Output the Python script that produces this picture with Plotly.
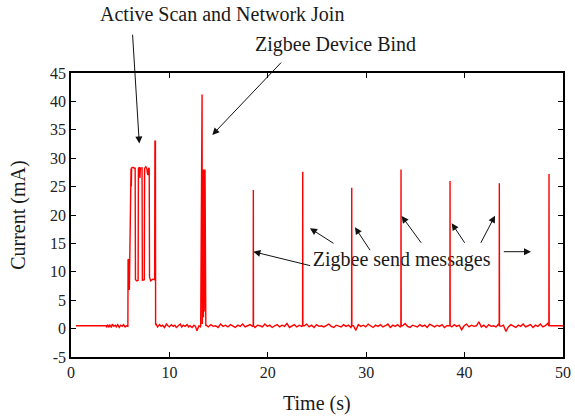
import plotly.graph_objects as go

# --- data ---
pre_t = [0.5, 3.6, 3.62, 3.7, 3.85, 3.95, 4.1, 4.2, 4.35, 4.5, 4.6, 4.75, 4.9, 5.05, 5.2, 5.35, 5.5, 5.65, 5.76]
pre_i = [0.5, 0.5, 0.2, 0.7, 0.3, 0.6, 0.2, 0.8, 0.4, 0.6, 0.3, 0.7, 0.2, 0.6, 0.4, 0.7, 0.3, 0.5, 0.4]

scan_t = [5.78, 5.80, 5.90, 5.93, 5.96, 6.00, 6.03, 6.10, 6.13, 6.16, 6.30, 6.45, 6.52, 6.55, 6.70, 6.82,
          6.85, 6.95, 7.00, 7.05, 7.22, 7.25, 7.45, 7.48, 7.60, 7.70, 7.80, 7.90, 7.95, 7.98, 8.10, 8.30,
          8.50, 8.53, 8.58, 8.60]
scan_i = [0.4, 12.2, 12.0, 6.8, 12.0, 11.8, 28.0, 28.2, 25.0, 28.3, 28.4, 28.2, 28.3, 8.6, 8.4, 8.5,
          28.2, 28.4, 26.5, 28.3, 28.3, 8.5, 8.6, 28.2, 28.5, 28.2, 27.0, 28.3, 28.2, 9.0, 8.4, 8.7,
          8.6, 33.0, 33.0, 0.6]

mid_t = [8.62, 8.8, 9.0, 9.15, 9.3, 9.5, 9.7, 9.85, 10.0, 10.2, 10.4, 10.55, 10.7, 10.9, 11.1, 11.25,
         11.4, 11.6, 11.8, 11.95, 12.1, 12.3, 12.5, 12.65, 12.8, 13.0, 13.15]
mid_i = [0.9, 0.3, 0.7, 0.4, 0.6, 0.2, 0.8, 0.5, 0.3, 0.7, 0.4, 0.6, 0.2, 0.5, 0.8, 0.3,
         0.6, 0.4, 0.7, 0.3, 0.5, 0.2, 0.6, 0.4, -0.4, 0.5, 0.3]

bind_t = [13.18, 13.20, 13.27, 13.29, 13.32, 13.34, 13.36, 13.38, 13.40, 13.42, 13.44, 13.46, 13.48,
          13.50, 13.52, 13.54, 13.56, 13.58, 13.60, 13.62, 13.64, 13.66, 13.68, 13.70]
bind_i = [0.5, 12.2, 12.0, 41.2, 41.2, 0.8, 28.0, 1.0, 28.0, 20.0, 28.0, 2.0, 28.0,
          20.0, 28.0, 3.0, 28.0, 28.0, 20.0, 28.0, 2.0, 28.0, 28.0, 0.6]

base_t = [13.75, 13.95, 14.2, 14.45, 14.7, 14.95, 15.2, 15.45, 15.7, 15.95,
          16.2, 16.45, 16.7, 16.95, 17.2, 17.45, 17.7, 17.95, 18.2, 18.45,
          18.7, 18.95, 19.2, 19.45, 19.7, 19.95, 20.2, 20.45, 20.7, 20.95,
          21.2, 21.45, 21.7, 21.95, 22.2, 22.45, 22.7, 22.95, 23.2, 23.45,
          23.7, 23.95, 24.2, 24.45, 24.7, 24.95, 25.2, 25.45, 25.7, 25.95,
          26.2, 26.45, 26.7, 26.95, 27.2, 27.45, 27.7, 27.95, 28.2, 28.45,
          28.7, 28.95, 29.2, 29.45, 29.7, 29.95, 30.2, 30.45, 30.7, 30.95,
          31.2, 31.45, 31.7, 31.95, 32.2, 32.45, 32.7, 32.95, 33.2, 33.45,
          33.7, 33.95, 34.2, 34.45, 34.7, 34.95, 35.2, 35.45, 35.7, 35.95,
          36.2, 36.45, 36.7, 36.95, 37.2, 37.45, 37.7, 37.95, 38.2, 38.45,
          38.7, 38.95, 39.2, 39.45, 39.7, 39.95, 40.2, 40.45, 40.7, 40.95,
          41.2, 41.45, 41.7, 41.95, 42.2, 42.45, 42.7, 42.95, 43.2, 43.45,
          43.7, 43.95, 44.2, 44.45, 44.7, 44.95, 45.2, 45.45, 45.7, 45.95,
          46.2, 46.45, 46.7, 46.95, 47.2, 47.45, 47.7, 47.95, 48.2, 48.45,
          48.7, 48.75, 50.5]
base_i = [0.6, 0.3, 0.7, 0.4, 0.5, 0.2, 0.8, 0.4, 0.6, 0.3,
          0.7, 0.5, 0.2, 0.6, 0.4, 0.8, 0.3, 0.5, 0.7, 0.4,
          0.2, 0.6, 0.5, 0.3, 0.8, 0.4, 0.6, 0.2, 0.5, 0.7,
          0.3, 0.6, 0.4, 0.9, 0.2, 0.5, 0.7, 0.3, 0.6, 0.4,
          0.5, 0.8, 0.3, 0.6, 0.2, 0.7, 0.4, 0.5, 0.3, 0.6,
          0.8, 0.4, 0.2, 0.6, 0.5, 0.3, 0.7, 0.4, 0.6, 0.2,
          0.5, -0.3, 0.7, 0.4, 0.6, 0.3, 0.8, 0.5, 0.2, 0.6,
          0.4, 0.7, 0.3, 0.5, 0.8, 0.2, 0.6, 0.4, 0.7, 0.3,
          0.5, 0.9, 0.4, 0.2, 0.6, 0.5, 0.3, 0.7, 0.4, 0.6,
          0.2, 0.8, 0.5, 0.3, 0.6, 0.4, 0.7, 0.2, 0.5, 0.6,
          0.3, 0.7, 0.4, 0.6, -0.2, 0.5, 0.8, 0.3, 0.6, 0.4,
          0.5, 1.2, 0.3, 0.6, 0.2, 0.7, 0.4, 0.5, 0.3, 0.8,
          0.4, 0.6, -0.5, 0.3, 0.7, 0.5, 0.2, 0.6, 0.4, 0.8,
          0.3, 0.5, 0.7, 0.2, 0.6, 0.4, 0.8, 0.3, 0.5, 0.9,
          0.5, 0.5, 0.5]

# periodic "send message" spikes
spike_t = [18.53, 23.55, 28.53, 33.54, 38.52, 43.53, 48.58]
spike_peak = [24.4, 27.6, 24.8, 28.0, 26.0, 25.6, 27.2]

x_ticks = [0, 10, 20, 30, 40, 50]
y_ticks = [-5, 0, 5, 10, 15, 20, 25, 30, 35, 40, 45]

# --- assemble trace ---
pts = list(zip(base_t, base_i))
for t, p in zip(spike_t, spike_peak):
    pts += [(t - 0.015, 0.5), (t, p), (t + 0.015, 0.5)]
pts.sort(key=lambda q: q[0])

t_all = pre_t + scan_t + mid_t + bind_t + [q[0] for q in pts]
i_all = pre_i + scan_i + mid_i + bind_i + [q[1] for q in pts]

FONT = "Liberation Serif"
TXT = "#1a1a1a"

fig = go.Figure()
# text under the curve (as in the reference)
fig.add_trace(go.Scatter(x=[33.6], y=[11.9], mode="text", text=["Zigbee send messages"],
                         textfont=dict(family=FONT, size=20, color=TXT), showlegend=False,
                         hoverinfo="skip"))
fig.add_trace(go.Scatter(x=t_all, y=i_all, mode="lines",
                         line=dict(color="#ff0000", width=1.4), showlegend=False))

def label(x, y, text, **kw):
    d = dict(x=x, y=y, xref="paper", yref="paper", text=text, showarrow=False,
             xanchor="center", yanchor="middle", font=dict(family=FONT, size=20, color=TXT))
    d.update(kw)
    return d

ann = [
    label(0.307, 1.208, "Active Scan and Network Join"),
    label(0.537, 1.102, "Zigbee Device Bind"),
    label(0.5, -0.165, "Time (s)"),
    label(-0.108, 0.5, "Current (mA)", textangle=-90),
]

# arrows: (tail_t, tail_y, head_t, head_y)
arrows = [
    (6.25, 52.0, 6.94, 32.6),
    (21.5, 47.1, 14.36, 34.1),
    (24.46, 11.02, 18.53, 13.54),
    (26.83, 14.84, 24.29, 17.66),
    (30.49, 13.54, 28.86, 17.83),
    (35.7, 14.84, 33.6, 19.82),
    (40.11, 14.84, 38.69, 18.54),
    (41.57, 14.84, 43.09, 19.88),
    (43.83, 13.54, 46.75, 13.54),
]
for at, ay, ht, hy in arrows:
    ann.append(dict(x=ht, y=hy, ax=at, ay=ay, xref="x", yref="y", axref="x", ayref="y",
                    text="", showarrow=True, arrowhead=2, arrowsize=1.4, arrowwidth=1,
                    arrowcolor="#111", standoff=0, startstandoff=0))

axis_common = dict(showline=True, linecolor="black", linewidth=1.5, mirror="allticks",
                   ticks="inside", ticklen=5, tickwidth=1, tickcolor="black",
                   showgrid=False, zeroline=False, automargin=False,
                   tickfont=dict(family=FONT, size=16, color="#222"))

fig.update_layout(
    width=575, height=419,
    margin=dict(l=71, r=12, t=73, b=62, autoexpand=False),
    paper_bgcolor="white", plot_bgcolor="white",
    xaxis=dict(range=[0, 50], tickvals=x_ticks, ticktext=[str(v) for v in x_ticks], **axis_common),
    yaxis=dict(range=[-5, 45], tickvals=y_ticks, ticktext=[str(v) for v in y_ticks], **axis_common),
    annotations=ann,
)

fig.write_html("out.html")
